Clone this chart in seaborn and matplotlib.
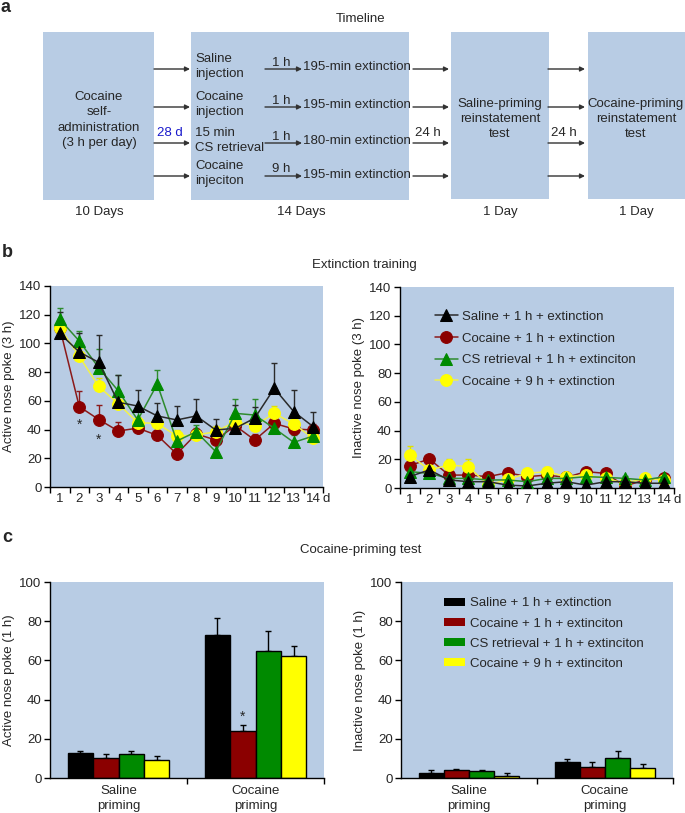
import numpy as np
import pandas as pd
import matplotlib
matplotlib.use("Agg")
import matplotlib.pyplot as plt
import seaborn as sns
from matplotlib.patches import Rectangle, Patch

# ---------------- data ----------------
days = list(range(1, 15))
groups_b = ["Saline + 1 h + extinction", "Cocaine + 1 h + extinction",
            "CS retrieval + 1 h + extinciton", "Cocaine + 9 h + extinction"]
groups_c = ["Saline + 1 h + extinction", "Cocaine + 1 h + extinciton",
            "CS retrieval + 1 h + extinciton", "Cocaine + 9 h + extinciton"]
priming = ["Saline\npriming", "Cocaine\npriming"]

# Active nose pokes during extinction (3 h)
act_saline = [107, 94, 86.8, 59, 56.4, 49.5, 46.7, 49.5, 39.7, 40.9, 48, 68.7, 52.5, 42]
act_saline_sem = [15, 13, 19, 19, 11, 9, 10, 12, 8, 16, 8, 18, 15, 10]
act_coc1 = [111, 56, 47, 39, 41, 36, 23, 37, 32.7, 42.7, 32.7, 44.3, 40.4, 39.7]
act_coc1_sem = [5, 11, 10, 6, 4, 5, 4, 4, 4, 4, 4, 4, 4, 4]
act_cs = [116.8, 101.7, 83, 67, 46.7, 71.7, 32, 38.5, 24.6, 51.3, 50.1, 40.9, 31.1, 35.5]
act_cs_sem = [8, 7, 13, 11, 6, 10, 5, 5, 6, 10, 11, 6, 5, 6]
act_coc9 = [111, 91, 70, 58, 44.8, 44.3, 35.5, 36.2, 38.5, 45.5, 42.7, 51.3, 43.9, 33.9]
act_coc9_sem = [5, 6, 6, 5, 4, 5, 4, 4, 4, 5, 5, 5, 5, 5]

# Inactive nose pokes during extinction (3 h)
inact_saline = [8, 12.6, 5.6, 4.4, 4.4, 2, 1.4, 3.3, 4.4, 2, 4.4, 4.4, 3.3, 3.3]
inact_saline_sem = [2, 3, 1.5, 1.5, 1.5, 1, 1, 1.5, 1.5, 1, 1.5, 1.5, 1.5, 1.5]
inact_coc1 = [15.6, 20.2, 9, 9, 7.9, 10.7, 7.9, 9, 7.4, 11.4, 10.2, 1.4, 5.6, 6.7]
inact_coc1_sem = [3, 3, 2, 2, 2, 2, 2, 2, 2, 2, 2, 2, 2, 2]
inact_cs = [11.4, 10.2, 6.7, 6.7, 5.6, 5.6, 4.4, 6.7, 6.7, 7.9, 7.4, 6.7, 5.6, 7.9]
inact_cs_sem = [2, 2, 1.5, 1.5, 1.5, 1.5, 1.5, 1.5, 1.5, 2, 1.5, 1.5, 1.5, 2]
inact_coc9 = [23, 12.6, 16, 14.9, 2, 6, 10.2, 11.4, 7.9, 9, 6.7, 3.3, 6.7, 5.6]
inact_coc9_sem = [6, 3, 4, 5, 2, 2, 3, 3, 2, 2, 2, 2, 2, 2]

# Cocaine-priming test (1 h): [saline priming, cocaine priming] per group
bar_act = {"saline": [12.8, 73.1], "coc1": [10.4, 23.8], "cs": [12.1, 64.6], "coc9": [9.4, 62.4]}
bar_act_sem = {"saline": [1.0, 8.5], "coc1": [1.6, 3.1], "cs": [1.9, 10.4], "coc9": [1.6, 5.1]}
bar_inact = {"saline": [2.7, 8.0], "coc1": [3.9, 5.4], "cs": [3.4, 10.2], "coc9": [1.0, 5.1]}
bar_inact_sem = {"saline": [1.2, 1.5], "coc1": [0.7, 2.8], "cs": [0.9, 3.6], "coc9": [1.4, 2.2]}

# ---------------- style ----------------
sns.set_theme(style="ticks")
plt.rcParams["font.family"] = ["Liberation Sans", "DejaVu Sans"]
FS = 9.5
BG = "#b8cce4"
keys = ["saline", "coc1", "cs", "coc9"]
col = {"saline": "#000000", "coc1": "#8b0000", "cs": "#008a00", "coc9": "#ffff00"}
linecol = {"saline": "#2a2a2a", "coc1": "#8b1a1a", "cs": "#2e8b2e", "coc9": "#f2f24a"}
mark = {"saline": "^", "coc1": "o", "cs": "^", "coc9": "o"}

W, H = 685, 813
fig = plt.figure(figsize=(W / 100, H / 100), dpi=100)


def px_axes(x0, y0, x1, y1):
    return fig.add_axes([x0 / W, 1 - y1 / H, (x1 - x0) / W, (y1 - y0) / H])


# ---------------- panel a (diagram) ----------------
ax0 = fig.add_axes([0, 0, 1, 1])
ax0.set_xlim(0, W)
ax0.set_ylim(H, 0)
ax0.axis("off")

for (x0, y0, x1, y1) in [(43, 32, 154, 200), (191, 32, 409, 200), (451, 32, 549, 199), (588, 32, 685, 199)]:
    ax0.add_patch(Rectangle((x0, y0), x1 - x0, y1 - y0, facecolor=BG, edgecolor="none"))

ax0.text(6, 7, "a", fontsize=13, fontweight="bold", ha="center", va="center")
ax0.text(361, 19, "Timeline", fontsize=FS, ha="center", va="center")
ax0.text(99, 120, "Cocaine\nself-\nadministration\n(3 h per day)", fontsize=FS,
         ha="center", va="center", linespacing=1.35)
for x, t in [(99, "10 Days"), (301, "14 Days"), (500, "1 Day"), (636, "1 Day")]:
    ax0.text(x, 212, t, fontsize=FS, ha="center", va="center")
ax0.text(170, 133, "28 d", fontsize=FS, ha="center", va="center", color="#1a1acc")
ax0.text(428, 133, "24 h", fontsize=FS, ha="center", va="center")
ax0.text(564, 133, "24 h", fontsize=FS, ha="center", va="center")
ax0.text(500, 119, "Saline-priming\nreinstatement\ntest", fontsize=FS, ha="center",
         va="center", linespacing=1.3)
ax0.text(636, 119, "Cocaine-priming\nreinstatement\ntest", fontsize=FS, ha="center",
         va="center", linespacing=1.3)

rows = [69, 107, 143, 176]
treat = ["Saline\ninjection", "Cocaine\ninjection", "15 min\nCS retrieval", "Cocaine\ninjeciton"]
delay = ["1 h", "1 h", "1 h", "9 h"]
ext = ["195-min extinction", "195-min extinction", "180-min extinction", "195-min extinction"]
ap = dict(arrowstyle="-|>", color="#333333", lw=1.0, mutation_scale=7, shrinkA=0, shrinkB=0)
for y, tr, d, e in zip(rows, treat, delay, ext):
    for xa, xb in [(154, 190), (265, 302), (413, 449), (548, 585)]:
        ax0.annotate("", xy=(xb, y), xytext=(xa, y), arrowprops=ap)
    ax0.text(195, y - 2.5, tr, fontsize=FS, ha="left", va="center", linespacing=1.3)
    ax0.text(281, y - 0.5, d, fontsize=FS, ha="center", va="bottom")
    ax0.text(303, y - 1.5, e, fontsize=FS, ha="left", va="center")

ax0.text(7, 252, "b", fontsize=13, fontweight="bold", ha="center", va="center")
ax0.text(364, 265, "Extinction training", fontsize=FS, ha="center", va="center")
ax0.text(7, 537, "c", fontsize=13, fontweight="bold", ha="center", va="center")
ax0.text(361, 550, "Cocaine-priming test", fontsize=FS, ha="center", va="center")


# ---------------- panel b ----------------
def style_axes(ax, xpad=4):
    ax.set_facecolor(BG)
    for s in ["top", "right"]:
        ax.spines[s].set_visible(False)
    for s in ["left", "bottom"]:
        ax.spines[s].set_color("black")
        ax.spines[s].set_linewidth(1.0)
    ax.tick_params(axis="y", direction="out", length=4, width=1, labelsize=FS, pad=2, color="black")
    ax.tick_params(axis="x", which="major", length=0, labelsize=FS, pad=xpad)
    ax.tick_params(axis="x", which="minor", direction="out", length=4, width=1, color="black")


def line_panel(ax, series, sems, ylabel, legend):
    order = ["coc1", "coc9", "cs", "saline"]
    for k in order:
        df = pd.DataFrame({"day": days, "value": series[k]})
        sns.lineplot(data=df, x="day", y="value", ax=ax, color=linecol[k], lw=1.1,
                     marker=mark[k], markersize=8.5, markerfacecolor=col[k],
                     markeredgecolor=col[k], label=groups_b[keys.index(k)], legend=False,
                     zorder=3)
        ax.errorbar(days, series[k], yerr=[np.zeros(14), sems[k]], fmt="none",
                    ecolor=linecol[k] if k != "coc9" else "#e0e000", elinewidth=1,
                    capsize=2, capthick=1, zorder=2)
    ax.set_xlim(0.5, 14.5)
    ax.set_ylim(0, 140)
    ax.set_yticks(range(0, 141, 20))
    ax.set_xticks(days)
    ax.set_xticks(np.arange(0.5, 14.6, 1), minor=True)
    ax.set_xlabel("")
    ax.set_ylabel(ylabel, fontsize=FS, labelpad=3)
    style_axes(ax)
    ax.annotate("d", xy=(14.5, 0), xycoords=("data", "axes fraction"), xytext=(2.5, -4),
                textcoords="offset points", fontsize=FS, ha="center", va="top")
    if legend:
        hs, ls = ax.get_legend_handles_labels()
        lab2h = dict(zip(ls, hs))
        ax.legend([lab2h[g] for g in groups_b], groups_b, loc="upper left",
                  bbox_to_anchor=(0.09, 0.935), frameon=False, fontsize=FS,
                  handlelength=1.7, handletextpad=0.3, labelspacing=0.72, borderpad=0.3)


axb1 = px_axes(50, 286, 323, 487)
line_panel(axb1, dict(saline=act_saline, coc1=act_coc1, cs=act_cs, coc9=act_coc9),
           dict(saline=act_saline_sem, coc1=act_coc1_sem, cs=act_cs_sem, coc9=act_coc9_sem),
           "Active nose poke (3 h)", False)
axb1.text(2, 43, "*", fontsize=10, ha="center", va="center")
axb1.text(3, 33, "*", fontsize=10, ha="center", va="center")

axb2 = px_axes(400, 287, 674, 488)
line_panel(axb2, dict(saline=inact_saline, coc1=inact_coc1, cs=inact_cs, coc9=inact_coc9),
           dict(saline=inact_saline_sem, coc1=inact_coc1_sem, cs=inact_cs_sem, coc9=inact_coc9_sem),
           "Inactive nose poke (3 h)", True)


# ---------------- panel c ----------------
def bar_panel(ax, vals, sems, ylabel, legend):
    recs = []
    for k, g in zip(keys, groups_c):
        for p, v in zip(priming, vals[k]):
            recs.append({"priming": p, "group": g, "value": v})
    df = pd.DataFrame(recs)
    sns.barplot(data=df, x="priming", y="value", hue="group", hue_order=groups_c,
                order=priming, palette=[col[k] for k in keys], edgecolor="black",
                linewidth=1, errorbar=None, width=0.74, gap=0, ax=ax, legend=False,
                saturation=1, zorder=2)
    for cont, k in zip(ax.containers, keys):
        for bar, s in zip(cont, sems[k]):
            xc = bar.get_x() + bar.get_width() / 2
            h = bar.get_height()
            ax.errorbar([xc], [h], yerr=[[0], [s]], fmt="none", ecolor="black",
                        elinewidth=1, capsize=2, capthick=1, zorder=1)
    ax.set_xlim(-0.5, 1.5)
    ax.set_ylim(0, 100)
    ax.set_yticks(range(0, 101, 20))
    ax.set_xticks([0, 1])
    ax.set_xticklabels(priming, linespacing=1.3)
    ax.set_xticks([0.5, 1.5], minor=True)
    ax.set_xlabel("")
    ax.set_ylabel(ylabel, fontsize=FS, labelpad=3)
    style_axes(ax, xpad=5)
    if legend:
        hs = [Patch(facecolor=col[k], edgecolor="none") for k in keys]
        ax.legend(hs, groups_c, loc="upper left", bbox_to_anchor=(0.12, 0.975),
                  frameon=False, fontsize=FS, handlelength=1.55, handleheight=0.55,
                  handletextpad=0.4, labelspacing=0.62, borderpad=0.3)


axc1 = px_axes(50, 582, 324, 778)
bar_panel(axc1, bar_act, bar_act_sem, "Active nose poke (1 h)", False)
red_bar = axc1.containers[1][1]
axc1.text(red_bar.get_x() + red_bar.get_width() / 2, 31, "*", fontsize=10,
          ha="center", va="center")

axc2 = px_axes(401, 582, 673, 778)
bar_panel(axc2, bar_inact, bar_inact_sem, "Inactive nose poke (1 h)", True)

fig.savefig("out.png", dpi=100)
